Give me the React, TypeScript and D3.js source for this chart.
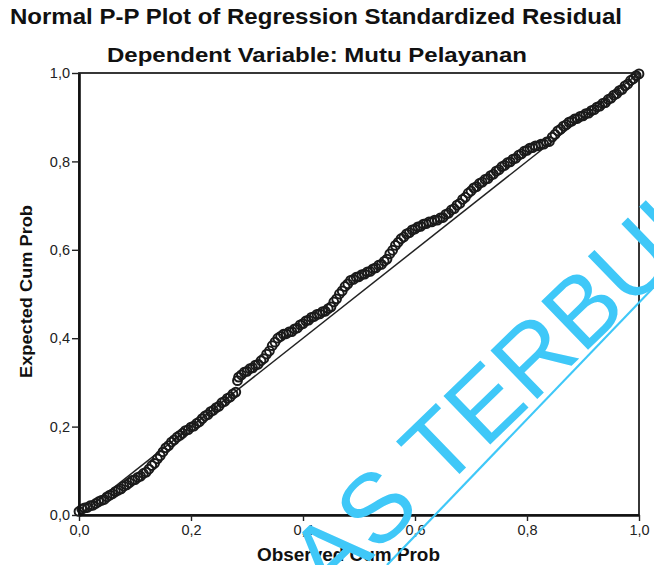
import React, { useEffect, useRef } from "react";
import * as d3 from "d3";

const width = 654,
  height = 565;

// Observed Cum Prob (x) and Expected Cum Prob (y)
const observed = [
  0.0, 0.005, 0.01, 0.015, 0.02, 0.025, 0.03, 0.035, 0.04, 0.045,
  0.05, 0.055, 0.06, 0.065, 0.07, 0.075, 0.08, 0.085, 0.09, 0.095,
  0.1, 0.105, 0.11, 0.115, 0.12, 0.125, 0.13, 0.135, 0.14, 0.145,
  0.15, 0.155, 0.16, 0.165, 0.17, 0.175, 0.18, 0.185, 0.19, 0.195,
  0.2, 0.205, 0.21, 0.215, 0.22, 0.225, 0.23, 0.235, 0.24, 0.245,
  0.25, 0.255, 0.26, 0.265, 0.27, 0.275, 0.28, 0.283, 0.285, 0.29,
  0.295, 0.3, 0.305, 0.31, 0.315, 0.32, 0.325, 0.33, 0.335, 0.34,
  0.345, 0.35, 0.355, 0.36, 0.365, 0.37, 0.375, 0.38, 0.385, 0.39,
  0.395, 0.4, 0.405, 0.41, 0.415, 0.42, 0.425, 0.43, 0.435, 0.44,
  0.445, 0.45, 0.455, 0.46, 0.465, 0.47, 0.475, 0.48, 0.485, 0.49,
  0.495, 0.5, 0.505, 0.51, 0.515, 0.52, 0.525, 0.53, 0.535, 0.54,
  0.545, 0.55, 0.555, 0.56, 0.565, 0.57, 0.575, 0.58, 0.585, 0.59,
  0.595, 0.6, 0.605, 0.61, 0.615, 0.62, 0.625, 0.63, 0.635, 0.64,
  0.645, 0.65, 0.655, 0.66, 0.665, 0.67, 0.675, 0.68, 0.685, 0.69,
  0.695, 0.7, 0.705, 0.71, 0.715, 0.72, 0.725, 0.73, 0.735, 0.74,
  0.745, 0.75, 0.755, 0.76, 0.765, 0.77, 0.775, 0.78, 0.785, 0.79,
  0.795, 0.8, 0.805, 0.81, 0.815, 0.82, 0.825, 0.83, 0.835, 0.84,
  0.845, 0.85, 0.855, 0.86, 0.865, 0.87, 0.875, 0.88, 0.885, 0.89,
  0.895, 0.9, 0.905, 0.91, 0.915, 0.92, 0.925, 0.93, 0.935, 0.94,
  0.945, 0.95, 0.955, 0.96, 0.965, 0.97, 0.975, 0.98, 0.985, 0.99,
  0.995, 1.0,
];
const expected = [
  0.008, 0.013, 0.016, 0.017, 0.021, 0.022, 0.026, 0.03, 0.033, 0.035,
  0.041, 0.045, 0.048, 0.053, 0.056, 0.059, 0.065, 0.068, 0.073, 0.078,
  0.08, 0.085, 0.088, 0.094, 0.097, 0.104, 0.112, 0.117, 0.127, 0.134,
  0.143, 0.152, 0.157, 0.165, 0.17, 0.176, 0.18, 0.185, 0.191, 0.193,
  0.199, 0.201, 0.207, 0.211, 0.218, 0.224, 0.227, 0.234, 0.237, 0.243,
  0.246, 0.254, 0.257, 0.264, 0.267, 0.274, 0.278, 0.304, 0.312, 0.317,
  0.323, 0.325, 0.331, 0.333, 0.339, 0.341, 0.349, 0.354, 0.364, 0.371,
  0.383, 0.391, 0.4, 0.404, 0.409, 0.41, 0.414, 0.415, 0.421, 0.423,
  0.43, 0.433, 0.439, 0.441, 0.447, 0.449, 0.454, 0.455, 0.46, 0.461,
  0.467, 0.471, 0.482, 0.489, 0.5, 0.507, 0.517, 0.523, 0.531, 0.533,
  0.538, 0.539, 0.544, 0.545, 0.55, 0.551, 0.557, 0.559, 0.565, 0.567,
  0.574, 0.579, 0.591, 0.599, 0.61, 0.617, 0.625, 0.629, 0.636, 0.639,
  0.645, 0.647, 0.652, 0.653, 0.658, 0.659, 0.663, 0.663, 0.667, 0.667,
  0.672, 0.673, 0.68, 0.683, 0.69, 0.693, 0.701, 0.705, 0.714, 0.719,
  0.728, 0.733, 0.74, 0.743, 0.75, 0.753, 0.759, 0.761, 0.768, 0.771,
  0.778, 0.781, 0.788, 0.791, 0.797, 0.799, 0.805, 0.807, 0.814, 0.817,
  0.823, 0.825, 0.83, 0.831, 0.835, 0.835, 0.839, 0.839, 0.844, 0.845,
  0.855, 0.861, 0.869, 0.873, 0.88, 0.883, 0.889, 0.891, 0.896, 0.897,
  0.902, 0.903, 0.908, 0.909, 0.915, 0.917, 0.923, 0.925, 0.931, 0.933,
  0.94, 0.943, 0.95, 0.953, 0.96, 0.963, 0.971, 0.975, 0.983, 0.987,
  0.994, 0.998,
];
const tickValues = [0, 0.2, 0.4, 0.6, 0.8, 1.0];

const font = "'Liberation Sans', Arial, sans-serif";

export default function App() {
  const ref = useRef<SVGSVGElement>(null);

  useEffect(() => {
    const svg = d3.select(ref.current);
    svg.selectAll("*").remove();

    const x = d3.scaleLinear().domain([0, 1]).range([79, 639]);
    const y = d3.scaleLinear().domain([0, 1]).range([515, 73]);
    const fmt = (d: number) => d3.format(".1f")(d).replace(".", ",");

    // titles
    svg
      .append("text")
      .attr("x", 10)
      .attr("y", 24)
      .attr("font-family", font)
      .attr("font-weight", "bold")
      .attr("font-size", 21.5)
      .attr("textLength", 612)
      .attr("lengthAdjust", "spacingAndGlyphs")
      .attr("fill", "#111")
      .text("Normal P-P Plot of Regression Standardized Residual");
    svg
      .append("text")
      .attr("x", 107)
      .attr("y", 62)
      .attr("font-family", font)
      .attr("font-weight", "bold")
      .attr("font-size", 20.5)
      .attr("textLength", 420)
      .attr("lengthAdjust", "spacingAndGlyphs")
      .attr("fill", "#111")
      .text("Dependent Variable: Mutu Pelayanan");

    // frame
    svg
      .append("rect")
      .attr("x", x(0))
      .attr("y", y(1))
      .attr("width", x(1) - x(0))
      .attr("height", y(0) - y(1))
      .attr("fill", "none")
      .attr("stroke", "#222")
      .attr("stroke-width", 1.8);

    // diagonal reference line
    svg
      .append("line")
      .attr("x1", x(0))
      .attr("y1", y(0))
      .attr("x2", x(1))
      .attr("y2", y(1))
      .attr("stroke", "#222")
      .attr("stroke-width", 1.5);

    // points
    svg
      .append("g")
      .selectAll("circle")
      .data(observed.map((o, i) => [o, expected[i]]))
      .join("circle")
      .attr("cx", d => x(d[0]))
      .attr("cy", d => y(d[1]))
      .attr("r", 4.4)
      .attr("fill", "none")
      .attr("stroke", "#1a1a1a")
      .attr("stroke-width", 2);

    // axes
    const gx = svg
      .append("g")
      .attr("transform", `translate(0,${y(0)})`)
      .call(d3.axisBottom(x).tickValues(tickValues).tickSize(6).tickSizeOuter(0).tickFormat(fmt));
    const gy = svg
      .append("g")
      .attr("transform", `translate(${x(0)},0)`)
      .call(d3.axisLeft(y).tickValues(tickValues).tickSize(7).tickSizeOuter(0).tickFormat(fmt));

    [gx, gy].forEach(g => {
      g.select(".domain").attr("stroke", "#111").attr("stroke-width", 2.6);
      g.selectAll(".tick line").attr("stroke", "#222").attr("stroke-width", 1.4);
      g.selectAll(".tick text")
        .attr("font-family", font)
        .attr("font-size", 14.5)
        .attr("fill", "#222");
    });
    gx.selectAll(".tick text").attr("dy", "0.95em").attr("y", 6);
    gy.selectAll(".tick text").attr("x", -9);

    // axis titles
    svg
      .append("text")
      .attr("x", 257)
      .attr("y", 561)
      .attr("font-family", font)
      .attr("font-weight", "bold")
      .attr("font-size", 18)
      .attr("textLength", 183)
      .attr("lengthAdjust", "spacingAndGlyphs")
      .attr("fill", "#111")
      .text("Observed Cum Prob");
    svg
      .append("text")
      .attr("transform", "translate(32,378) rotate(-90)")
      .attr("font-family", font)
      .attr("font-weight", "bold")
      .attr("font-size", 17)
      .attr("textLength", 173)
      .attr("lengthAdjust", "spacingAndGlyphs")
      .attr("fill", "#111")
      .text("Expected Cum Prob");

    // library watermark stamped over the scan
    const wm = svg.append("g").attr("fill", "#3fc8f8").attr("stroke", "#3fc8f8");
    wm.append("text")
      .attr("transform", "translate(329,600) rotate(-44)")
      .attr("font-family", font)
      .attr("font-size", 98)
      .attr("stroke", "none")
      .text("AS TERBUKA");
    wm.append("line")
      .attr("x1", 387)
      .attr("y1", 565)
      .attr("x2", 654)
      .attr("y2", 287)
      .attr("stroke-width", 2.2);
  }, []);

  return (
    <svg
      ref={ref}
      width={width}
      height={height}
      style={{ position: "absolute", left: 0, top: 0, background: "#fff" }}
    />
  );
}
